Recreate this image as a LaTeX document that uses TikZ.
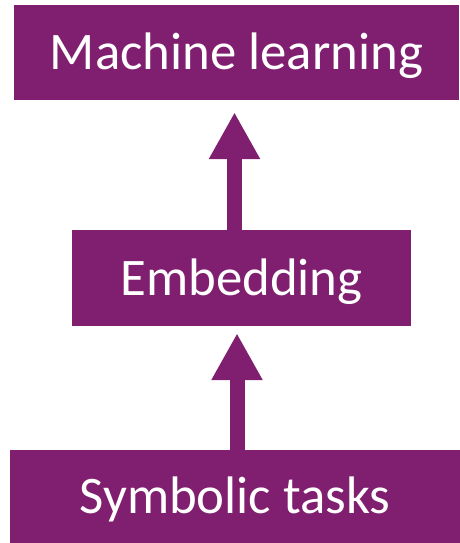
\documentclass[tikz,border=0pt]{standalone}
\usepackage{fontspec}
\setmainfont{Carlito}
\usepackage{xcolor}
\usetikzlibrary{arrows.meta}
\definecolor{boxpurple}{RGB}{128,31,111}

\begin{document}
\begin{tikzpicture}[x=1bp, y=-1bp,
  stage/.style={fill=boxpurple, text=white, inner sep=0pt,
    font=\fontsize{53}{62}\selectfont, text height=34bp, text depth=0pt},
  uparrow/.style={draw=boxpurple, line width=15bp,
    -{Triangle[width=48bp,length=47bp]}}]
\useasboundingbox (0,0) rectangle (460,543);

\node[stage, minimum width=445bp, minimum height=95bp] (ml) at (236.5,52.5) {Machine learning};
\node[stage, minimum width=339bp, minimum height=96bp] (emb) at (241.5,278) {Embedding};
\node[stage, minimum width=450bp, minimum height=93bp] (sym) at (235,496.5) {Symbolic tasks};

% arrows start inside the lower box, tips stop short of the upper one
\draw[uparrow, shorten >=12bp] ([xshift=-2bp]ml.south |- emb.north) -- ([xshift=-2bp]ml.south);
\draw[uparrow, shorten >=7bp] ([xshift=2bp]sym.north) -- ([xshift=2bp]sym.north |- emb.south);
\end{tikzpicture}
\end{document}
